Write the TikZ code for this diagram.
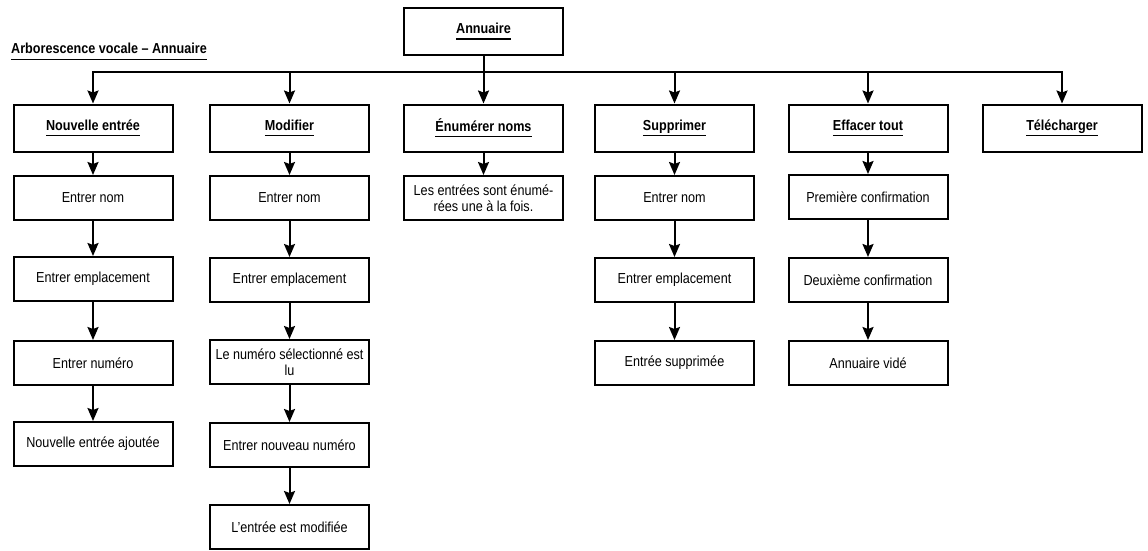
\documentclass[tikz,border=0pt]{standalone}
\usepackage{fontspec}
\setmainfont{Liberation Sans}[FakeStretch=0.87]
\usetikzlibrary{arrows.meta}
\newcommand\ulx[1]{\setbox0\hbox{#1}\rlap{\rule[-6pt]{\wd0}{1.3pt}}\box0}
\begin{document}
\begin{tikzpicture}[x=1pt,y=-1pt,
  box/.style={draw,line width=2pt,fill=white,minimum width=159pt,minimum height=44pt,inner sep=2pt,align=center,font=\fontsize{14.5}{16.5}\selectfont},
  head/.style={box,minimum height=47pt,font=\fontsize{14.5}{16.5}\selectfont\bfseries},
  arr/.style={line width=2pt,-{Stealth[length=13pt,width=11pt,inset=2pt]}}]
\useasboundingbox (0,0) rectangle (1148,551);
% top
\node[head] (ann) at (483.5,31.5) {\ulx{Annuaire}};
\node[font=\fontsize{14.5}{16.5}\selectfont\bfseries,anchor=base west,inner sep=0pt] (title) at (11,54) {\ulx{Arborescence vocale – Annuaire}};
% level 1
\node[head] (ne) at (93,128) {\ulx{Nouvelle entrée}};
\node[head] (mo) at (289.5,128) {\ulx{Modifier}};
\node[head] (en) at (483.5,128) {\ulx{Énumérer noms}};
\node[head] (su) at (674.5,128) {\ulx{Supprimer}};
\node[head] (ef) at (868,128) {\ulx{Effacer tout}};
\node[head] (te) at (1062,128) {\ulx{Télécharger}};
% Nouvelle entrée
\node[box] (n1) at (93,198) {Entrer nom};
\node[box] (n2) at (93,279) {Entrer emplacement};
\node[box] (n3) at (93,363) {Entrer numéro};
\node[box] (n4) at (93,444) {Nouvelle entrée ajoutée};
% Modifier
\node[box] (m1) at (289.5,198) {Entrer nom};
\node[box] (m2) at (289.5,280) {Entrer emplacement};
\node[box] (m3) at (289.5,362) {Le numéro sélectionné est\\lu};
\node[box] (m4) at (289.5,445) {Entrer nouveau numéro};
\node[box] (m5) at (289.5,527) {L'entrée est modifiée};
% Enumerer
\node[box] (e1) at (483.5,198) {Les entrées sont énumé-\\rées une à la fois.};
% Supprimer
\node[box] (s1) at (674.5,198) {Entrer nom};
\node[box] (s2) at (674.5,280) {Entrer emplacement};
\node[box] (s3) at (674.5,363) {Entrée supprimée};
% Effacer
\node[box] (f1) at (868,197) {Première confirmation};
\node[box] (f2) at (868,280) {Deuxième confirmation};
\node[box] (f3) at (868,363) {Annuaire vidé};
% connectors
\coordinate (bus) at (483.5,72);
\foreach \t in {ne,mo,su,ef,te} \draw[arr] (ann.south) |- (bus) -| (\t.north);
\draw[arr] (ann.south) -- (en.north);
\draw[arr] (ne.south) -- (n1.north);
\draw[arr] (n1.south) -- (n2.north);
\draw[arr] (n2.south) -- (n3.north);
\draw[arr] (n3.south) -- (n4.north);
\draw[arr] (mo.south) -- (m1.north);
\draw[arr] (m1.south) -- (m2.north);
\draw[arr] (m2.south) -- (m3.north);
\draw[arr] (m3.south) -- (m4.north);
\draw[arr] (m4.south) -- (m5.north);
\draw[arr] (en.south) -- (e1.north);
\draw[arr] (su.south) -- (s1.north);
\draw[arr] (s1.south) -- (s2.north);
\draw[arr] (s2.south) -- (s3.north);
\draw[arr] (ef.south) -- (f1.north);
\draw[arr] (f1.south) -- (f2.north);
\draw[arr] (f2.south) -- (f3.north);
\end{tikzpicture}
\end{document}
